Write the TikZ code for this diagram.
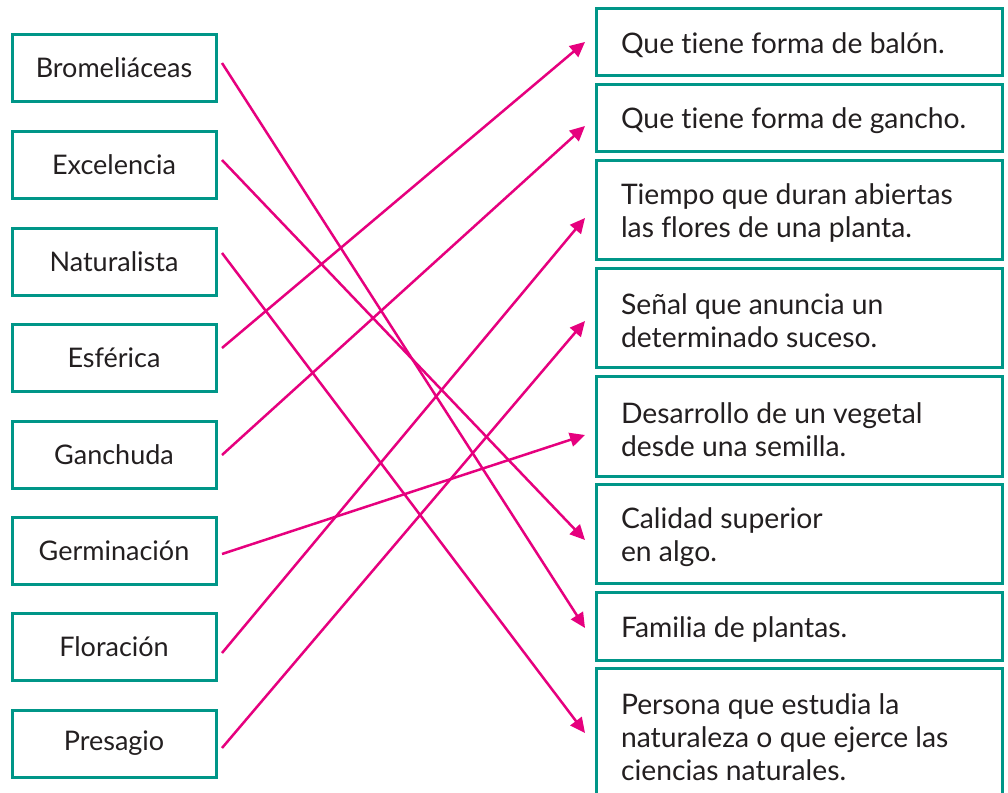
\documentclass[tikz,border=0pt]{standalone}
\usepackage{fontspec}
\setmainfont{Lato}[Ligatures=NoCommon]
\usetikzlibrary{arrows.meta}
\definecolor{boxteal}{RGB}{0,150,136}
\definecolor{linkmag}{RGB}{230,0,126}
\definecolor{inkdark}{RGB}{35,31,32}
\newcommand{\rtxt}[1]{\raisebox{-3.5pt}[\height][\depth]{\parbox{356pt}{\raggedright #1}}}
\tikzset{
  leftbox/.style={draw=boxteal, line width=3pt, outer sep=0pt, minimum width=204pt, minimum height=67pt, inner sep=0pt, text=inkdark, font=\fontsize{27}{33}\selectfont},
  rightbox/.style={draw=boxteal, line width=3pt, outer sep=0pt, anchor=west, minimum width=406pt, inner xsep=25pt, inner ysep=0pt, text=inkdark, font=\fontsize{28.3}{33}\selectfont},
  conn/.style={draw=linkmag, line width=2.5pt, -{Triangle[length=15pt,width=14pt]}}
}
\begin{document}
\begin{tikzpicture}[x=1pt,y=-1pt]
\clip (0,0) rectangle (1008,792);
\fill[white] (0,0) rectangle (1008,792);
% left column
\node[leftbox] (L1) at (114,68) {Bromeliáceas};
\node[leftbox] (L2) at (114,165) {Excelencia};
\node[leftbox] (L3) at (114,261.5) {Naturalista};
\node[leftbox] (L4) at (114,357.5) {Esférica};
\node[leftbox] (L5) at (114,454.5) {Ganchuda};
\node[leftbox] (L6) at (114,550.5) {Germinación};
\node[leftbox] (L7) at (114,646.5) {Floración};
\node[leftbox] (L8) at (114,743.5) {Presagio};
% right column
\node[rightbox, minimum height=66pt] (R1) at (596,42) {\rtxt{Que tiene forma de balón.}};
\node[rightbox, minimum height=67pt] (R2) at (596,117.5) {\rtxt{Que tiene forma de gancho.}};
\node[rightbox, minimum height=99pt] (R3) at (596,209.5) {\rtxt{Tiempo que duran abiertas\\las flores de una planta.}};
\node[rightbox, minimum height=99pt] (R4) at (596,317.5) {\rtxt{Señal que anuncia un\\determinado suceso.}};
\node[rightbox, minimum height=100pt] (R5) at (596,426) {\rtxt{Desarrollo de un vegetal\\desde una semilla.}};
\node[rightbox, minimum height=99pt] (R6) at (596,533.5) {\rtxt{Calidad superior\\en algo.}};
\node[rightbox, minimum height=68pt] (R7) at (596,626) {\rtxt{Familia de plantas.}};
\node[rightbox, minimum height=132pt] (R8) at (596,734) {\rtxt{Persona que estudia la\\naturaleza o que ejerce las\\ciencias naturales.}};
% connectors
\draw[conn] ([xshift=6pt,yshift=5pt]L1.east) -- ([xshift=-11pt,yshift=-2pt]R7.west);
\draw[conn] ([xshift=6pt,yshift=5pt]L2.east) -- ([xshift=-11pt,yshift=-6.5pt]R6.west);
\draw[conn] ([xshift=6pt,yshift=8.5pt]L3.east) -- ([xshift=-11pt,yshift=1pt]R8.west);
\draw[conn] ([xshift=6pt,yshift=9.5pt]L4.east) -- ([xshift=-11pt,yshift=0pt]R1.west);
\draw[conn] ([xshift=6pt,yshift=-0.5pt]L5.east) -- ([xshift=-11pt,yshift=-8.5pt]R2.west);
\draw[conn] ([xshift=6pt,yshift=-3.5pt]L6.east) -- ([xshift=-11pt,yshift=-9pt]R5.west);
\draw[conn] ([xshift=6pt,yshift=-6.5pt]L7.east) -- ([xshift=-11pt,yshift=-8.5pt]R3.west);
\draw[conn] ([xshift=6pt,yshift=-4.5pt]L8.east) -- ([xshift=-11pt,yshift=-3.5pt]R4.west);
\end{tikzpicture}
\end{document}
